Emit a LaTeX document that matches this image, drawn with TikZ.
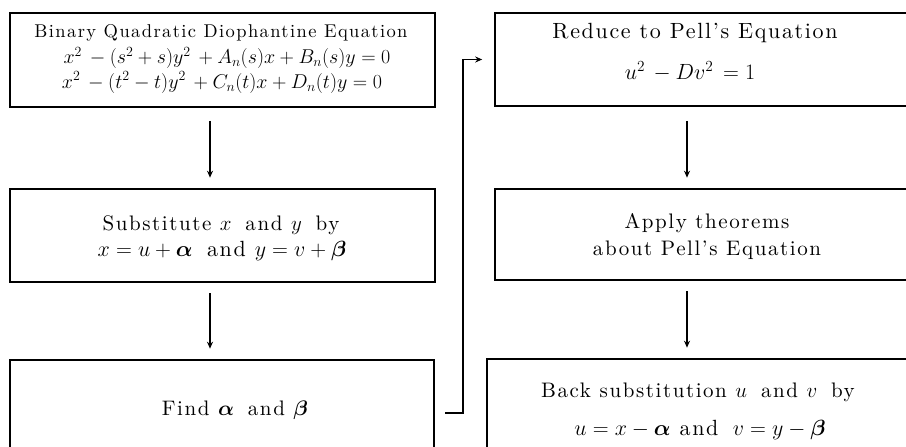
\RequirePackage{fix-cm}
\documentclass[tikz,border=0pt]{standalone}
\usepackage{amsmath,amsbsy}
\usepackage{fontspec}
\newfontfamily\spaced{lmroman10-regular}[Extension=.otf,Ligatures=TeX,LetterSpace=7.5]
\usetikzlibrary{arrows.meta}
\newcommand{\ba}{\boldsymbol{\alpha}}
\newcommand{\bb}{\boldsymbol{\beta}}
\newcommand{\gp}{\hspace{0.25em}}
\begin{document}
\begin{tikzpicture}[x=1pt,y=-1pt,
  box/.style={draw,line width=2.6pt,rectangle,inner sep=0pt},
  lbl/.style={anchor=base,inner sep=0pt,font=\spaced\fontsize{21}{25}\selectfont},
  lblsmall/.style={anchor=base,inner sep=0pt,font=\spaced\fontsize{18.5}{22}\selectfont},
  flow/.style={line width=1.3pt,-{Stealth[length=7pt,width=6pt]}},
]
\useasboundingbox (0,0) rectangle (906,447);
% boxes
\node[box,minimum width=425pt,minimum height=94pt] (b1) at (222.5,60) {};
\node[box,minimum width=425pt,minimum height=93pt] (b3) at (222.5,235.5) {};
\node[box,minimum width=424pt,minimum height=106pt] (b5) at (222,413) {};
\node[box,minimum width=413pt,minimum height=93pt] (b2) at (701.5,59.5) {};
\node[box,minimum width=413pt,minimum height=91pt] (b4) at (701.5,234.5) {};
\node[box,minimum width=421pt,minimum height=106pt] (b6) at (697.5,412) {};
% texts
\node[lblsmall] (t1a) at (221,37) {Binary Quadratic Diophantine Equation};
\node[lblsmall,font=\fontsize{20}{24}\selectfont] (t1b) at (227,63.5) {$x^{2}\,-(s^{2}+s)y^{2}\,+ A_n(s)x + B_n(s)y = 0$};
\node[lblsmall,font=\fontsize{20}{24}\selectfont] (t1c) at (222,88) {$x^{2}\,-(t^{2}-t)y^{2}\,+C_n(t)x + D_n(t)y = 0$};
\node[lbl,font=\spaced\fontsize{22}{26}\selectfont] (t2a) at (695,38) {Reduce to Pell's Equation};
\node[lbl,font=\fontsize{22}{26}\selectfont] (t2b) at (690,79) {$u^{2}\,- Dv^{2}\,= 1$};
\node[lbl] (t3a) at (221,230) {Substitute $x$\gp{} and $y$\gp{} by};
\node[lbl,font=\spaced\fontsize{22}{26}\selectfont] (t3b) at (222,256) {$x = u + \ba$\gp{} and $y = v + \bb$};
\node[lbl] (t4a) at (707,228) {Apply theorems};
\node[lbl] (t4b) at (707,255) {about Pell's Equation};
\node[lbl] (t5) at (235,415) {Find $\ba$\gp{} and $\bb$};
\node[lbl] (t6a) at (698,397) {Back substitution $u$\gp{} and $v$\gp{} by};
\node[lbl,font=\spaced\fontsize{22}{26}\selectfont] (t6b) at (700,435) {$u = x - \ba$ and\gp{} $v = y - \bb$};
% connectors
\coordinate (ax) at (210,0);
\coordinate (bx) at (687,0);
\coordinate (jx) at (463,0);
\draw[flow,shorten <=12.5pt,shorten >=10pt] (b1.south -| ax) -- (b3.north -| ax);
\draw[flow,shorten <=10pt,shorten >=10pt] (b3.south -| ax) -- (b5.north -| ax);
\draw[flow,shorten <=13.5pt,shorten >=10pt] (b2.south -| bx) -- (b4.north -| bx);
\draw[flow,shorten <=10pt,shorten >=10pt] (b4.south -| bx) -- (b6.north -| bx);
\draw[flow,shorten <=10pt,shorten >=11.5pt] (b5.east) -- (b5.east -| jx) |- (b2.west);
\end{tikzpicture}
\end{document}
